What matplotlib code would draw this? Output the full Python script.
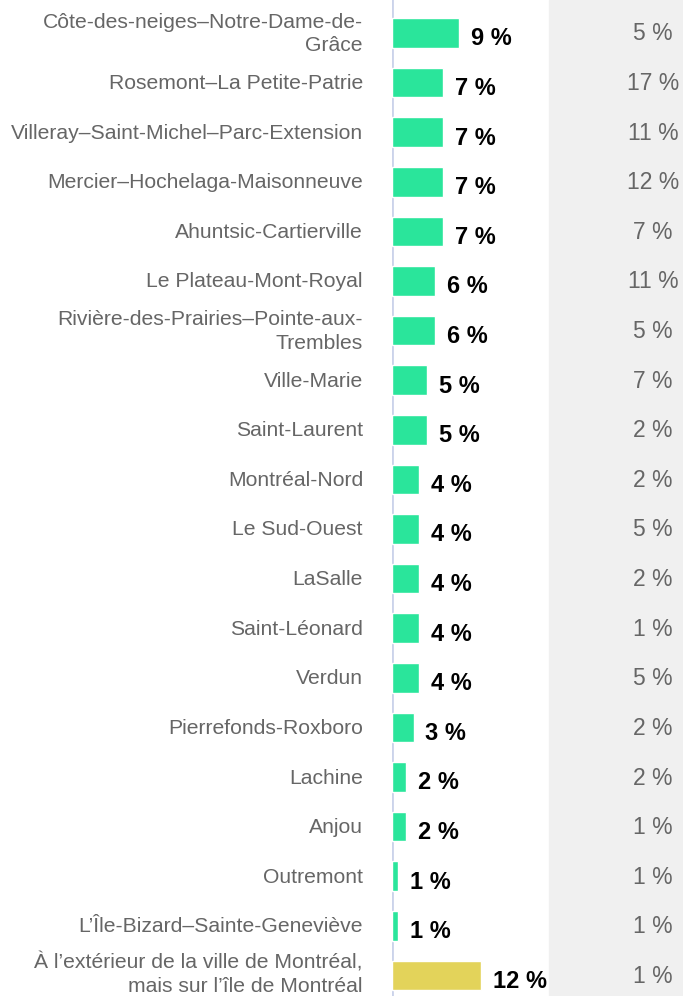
import matplotlib.pyplot as plt
from matplotlib.patches import Rectangle

plt.rcParams['font.family'] = ['Liberation Sans', 'DejaVu Sans']

# arrondissements (ordre d'affichage)
arrondissements = [
    "Côte-des-neiges–Notre-Dame-de-\nGrâce",
    "Rosemont–La Petite-Patrie",
    "Villeray–Saint-Michel–Parc-Extension",
    "Mercier–Hochelaga-Maisonneuve",
    "Ahuntsic-Cartierville",
    "Le Plateau-Mont-Royal",
    "Rivière-des-Prairies–Pointe-aux-\nTrembles",
    "Ville-Marie",
    "Saint-Laurent",
    "Montréal-Nord",
    "Le Sud-Ouest",
    "LaSalle",
    "Saint-Léonard",
    "Verdun",
    "Pierrefonds-Roxboro",
    "Lachine",
    "Anjou",
    "Outremont",
    "L’Île-Bizard–Sainte-Geneviève",
    "À l’extérieur de la ville de Montréal,\nmais sur l’île de Montréal",
]
# part des répondants (%), estimée sur la longueur des barres
part = [9.0, 6.9, 6.9, 6.9, 6.9, 5.8, 5.8, 4.7, 4.7, 3.7, 3.7, 3.7, 3.7, 3.7,
        2.9, 1.9, 1.9, 0.8, 0.8, 12.0]
# colonne de droite (%)
part_pop = [5, 17, 11, 12, 7, 11, 5, 7, 2, 2, 5, 2, 1, 5, 2, 2, 1, 1, 1, 1]

vert = "#2ae59b"
jaune = "#e3d35a"
gris_txt = "#666666"

fig = plt.figure(figsize=(6.83, 9.96), dpi=100)
W, H = 683, 996

# bande grise à droite
fig.patches.append(Rectangle((549 / W, 0), 1 - 549 / W, 1,
                             transform=fig.transFigure, color="#f0f0f0", zorder=0))

ax = fig.add_axes([392 / W, 0, 157 / W, 1])
ax.set_facecolor("none")
ax.set_xlim(0, 157 / 7.42)
ax.set_ylim(19.415, -0.665)

y = list(range(len(part)))
couleurs = [vert] * (len(part) - 1) + [jaune]
ax.axvline(0, color="#cbd3ea", lw=2, zorder=1)
ax.barh(y, part, height=0.6, color=couleurs, edgecolor="white", linewidth=1, zorder=2)

for yi, v, lab, p in zip(y, part, arrondissements, part_pop):
    ax.text(v + 1.6, yi + 0.12, f"{round(v)} %", va="center", ha="left",
            fontsize=17, fontweight="bold", color="black")
    # la dernière étiquette touche le bas : on la remonte un peu
    dy = -0.03 if yi == len(part) - 1 else 0.02
    ax.text(-29 / 7.42, yi + dy, lab, va="center", ha="right", fontsize=15.2,
            color=gris_txt, linespacing=1.3)
    fig.text(653 / W, 1 - (34 + 49.6 * yi) / H, f"{p} %", va="center", ha="center",
             fontsize=16.5, color=gris_txt)

for s in ax.spines.values():
    s.set_visible(False)
ax.set_xticks([])
ax.set_yticks([])

fig.savefig("out.png", dpi=100)
